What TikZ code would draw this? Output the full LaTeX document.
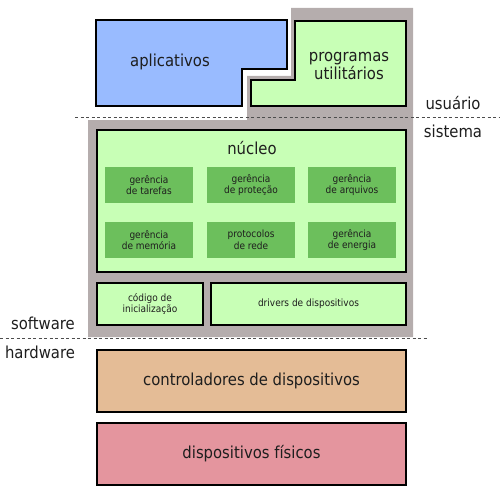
\documentclass[tikz,border=0pt]{standalone}
\usepackage{fontspec}
\setmainfont{DejaVu Sans Condensed}
\definecolor{cblue}{HTML}{99BBFF}
\definecolor{clgreen}{HTML}{C8FFB6}
\definecolor{cdgreen}{HTML}{6CBF5C}
\definecolor{cgray}{HTML}{B5ADAD}
\definecolor{ctan}{HTML}{E4BC96}
\definecolor{cpink}{HTML}{E4959E}
\definecolor{ctext}{HTML}{1E1E1E}
\begin{document}
\begin{tikzpicture}[x=1pt,y=-1pt,
  box/.style={draw=black,line width=2pt},
  bigtxt/.style={font=\fontsize{16.5}{18.3}\selectfont,text=ctext,align=center},
  smalltxt/.style={font=\fontsize{10}{11.7}\selectfont,text=ctext,align=center},
  subbox/.style={fill=cdgreen,draw=none,minimum width=88pt,minimum height=36pt,inner sep=0pt,smalltxt},
  sep/.style={dashed,dash pattern=on 3pt off 2.5pt,line width=1pt,draw=black!70}]
\useasboundingbox (0,0) rectangle (500,500);
% gray system region
\fill[cgray] (291,8) -- (413,8) -- (413,337) -- (88,337) -- (88,120) -- (247,120) -- (247,76) -- (291,76) -- cycle;
% separators
\coordinate (s1a) at (75,118); \coordinate (s1b) at (500,118);
\coordinate (s2a) at (0,338); \coordinate (s2b) at (427,338);
\draw[sep] (s1a) -- (s1b);
\draw[sep] (s2a) -- (s2b);
% aplicativos
\draw[box,fill=cblue] (96,20) -- (287,20) -- (287,69) -- (242,69) -- (242,106) -- (96,106) -- cycle;
\node[bigtxt] (apl) at (170,62) {aplicativos};
% programas utilitarios
\draw[box,fill=clgreen] (295,21) -- (406,21) -- (406,106) -- (251,106) -- (251,80) -- (295,80) -- cycle;
\node[bigtxt] (prog) at (349,66) {programas\\utilitários};
% nucleo
\node[box,fill=clgreen,minimum width=309pt,minimum height=142pt,inner sep=0pt] (nuc) at (251.5,201) {};
\node[bigtxt] (nuct) at (252,148) {núcleo};
\node[subbox] (g1) at (149,185) {gerência\\de tarefas};
\node[subbox] (g2) at (251,185) {gerência\\de proteção};
\node[subbox] (g3) at (352,185) {gerência\\de arquivos};
\node[subbox] (g4) at (149,240) {gerência\\de memória};
\node[subbox] (g5) at (251,240) {protocolos\\de rede};
\node[subbox] (g6) at (352,240) {gerência\\de energia};
% bottom of system
\node[box,fill=clgreen,minimum width=106pt,minimum height=42pt,inner sep=0pt,smalltxt] (cod) at (150,304) {código de\\inicialização};
\node[box,fill=clgreen,minimum width=195pt,minimum height=42pt,inner sep=0pt,smalltxt] (drv) at (308.5,304) {drivers de dispositivos};
% hardware
\node[box,fill=ctan,minimum width=309pt,minimum height=62pt,inner sep=0pt,bigtxt] (ctl) at (251.5,381) {controladores de dispositivos};
\node[box,fill=cpink,minimum width=309pt,minimum height=62pt,inner sep=0pt,bigtxt] (fis) at (251.5,454) {dispositivos físicos};
% labels
\node[bigtxt] (usu) at (453,103) {usuário};
\node[bigtxt] (sis) at (453,131) {sistema};
\node[bigtxt] (sw) at (43,323) {software};
\node[bigtxt] (hw) at (40,352) {hardware};
\end{tikzpicture}
\end{document}
